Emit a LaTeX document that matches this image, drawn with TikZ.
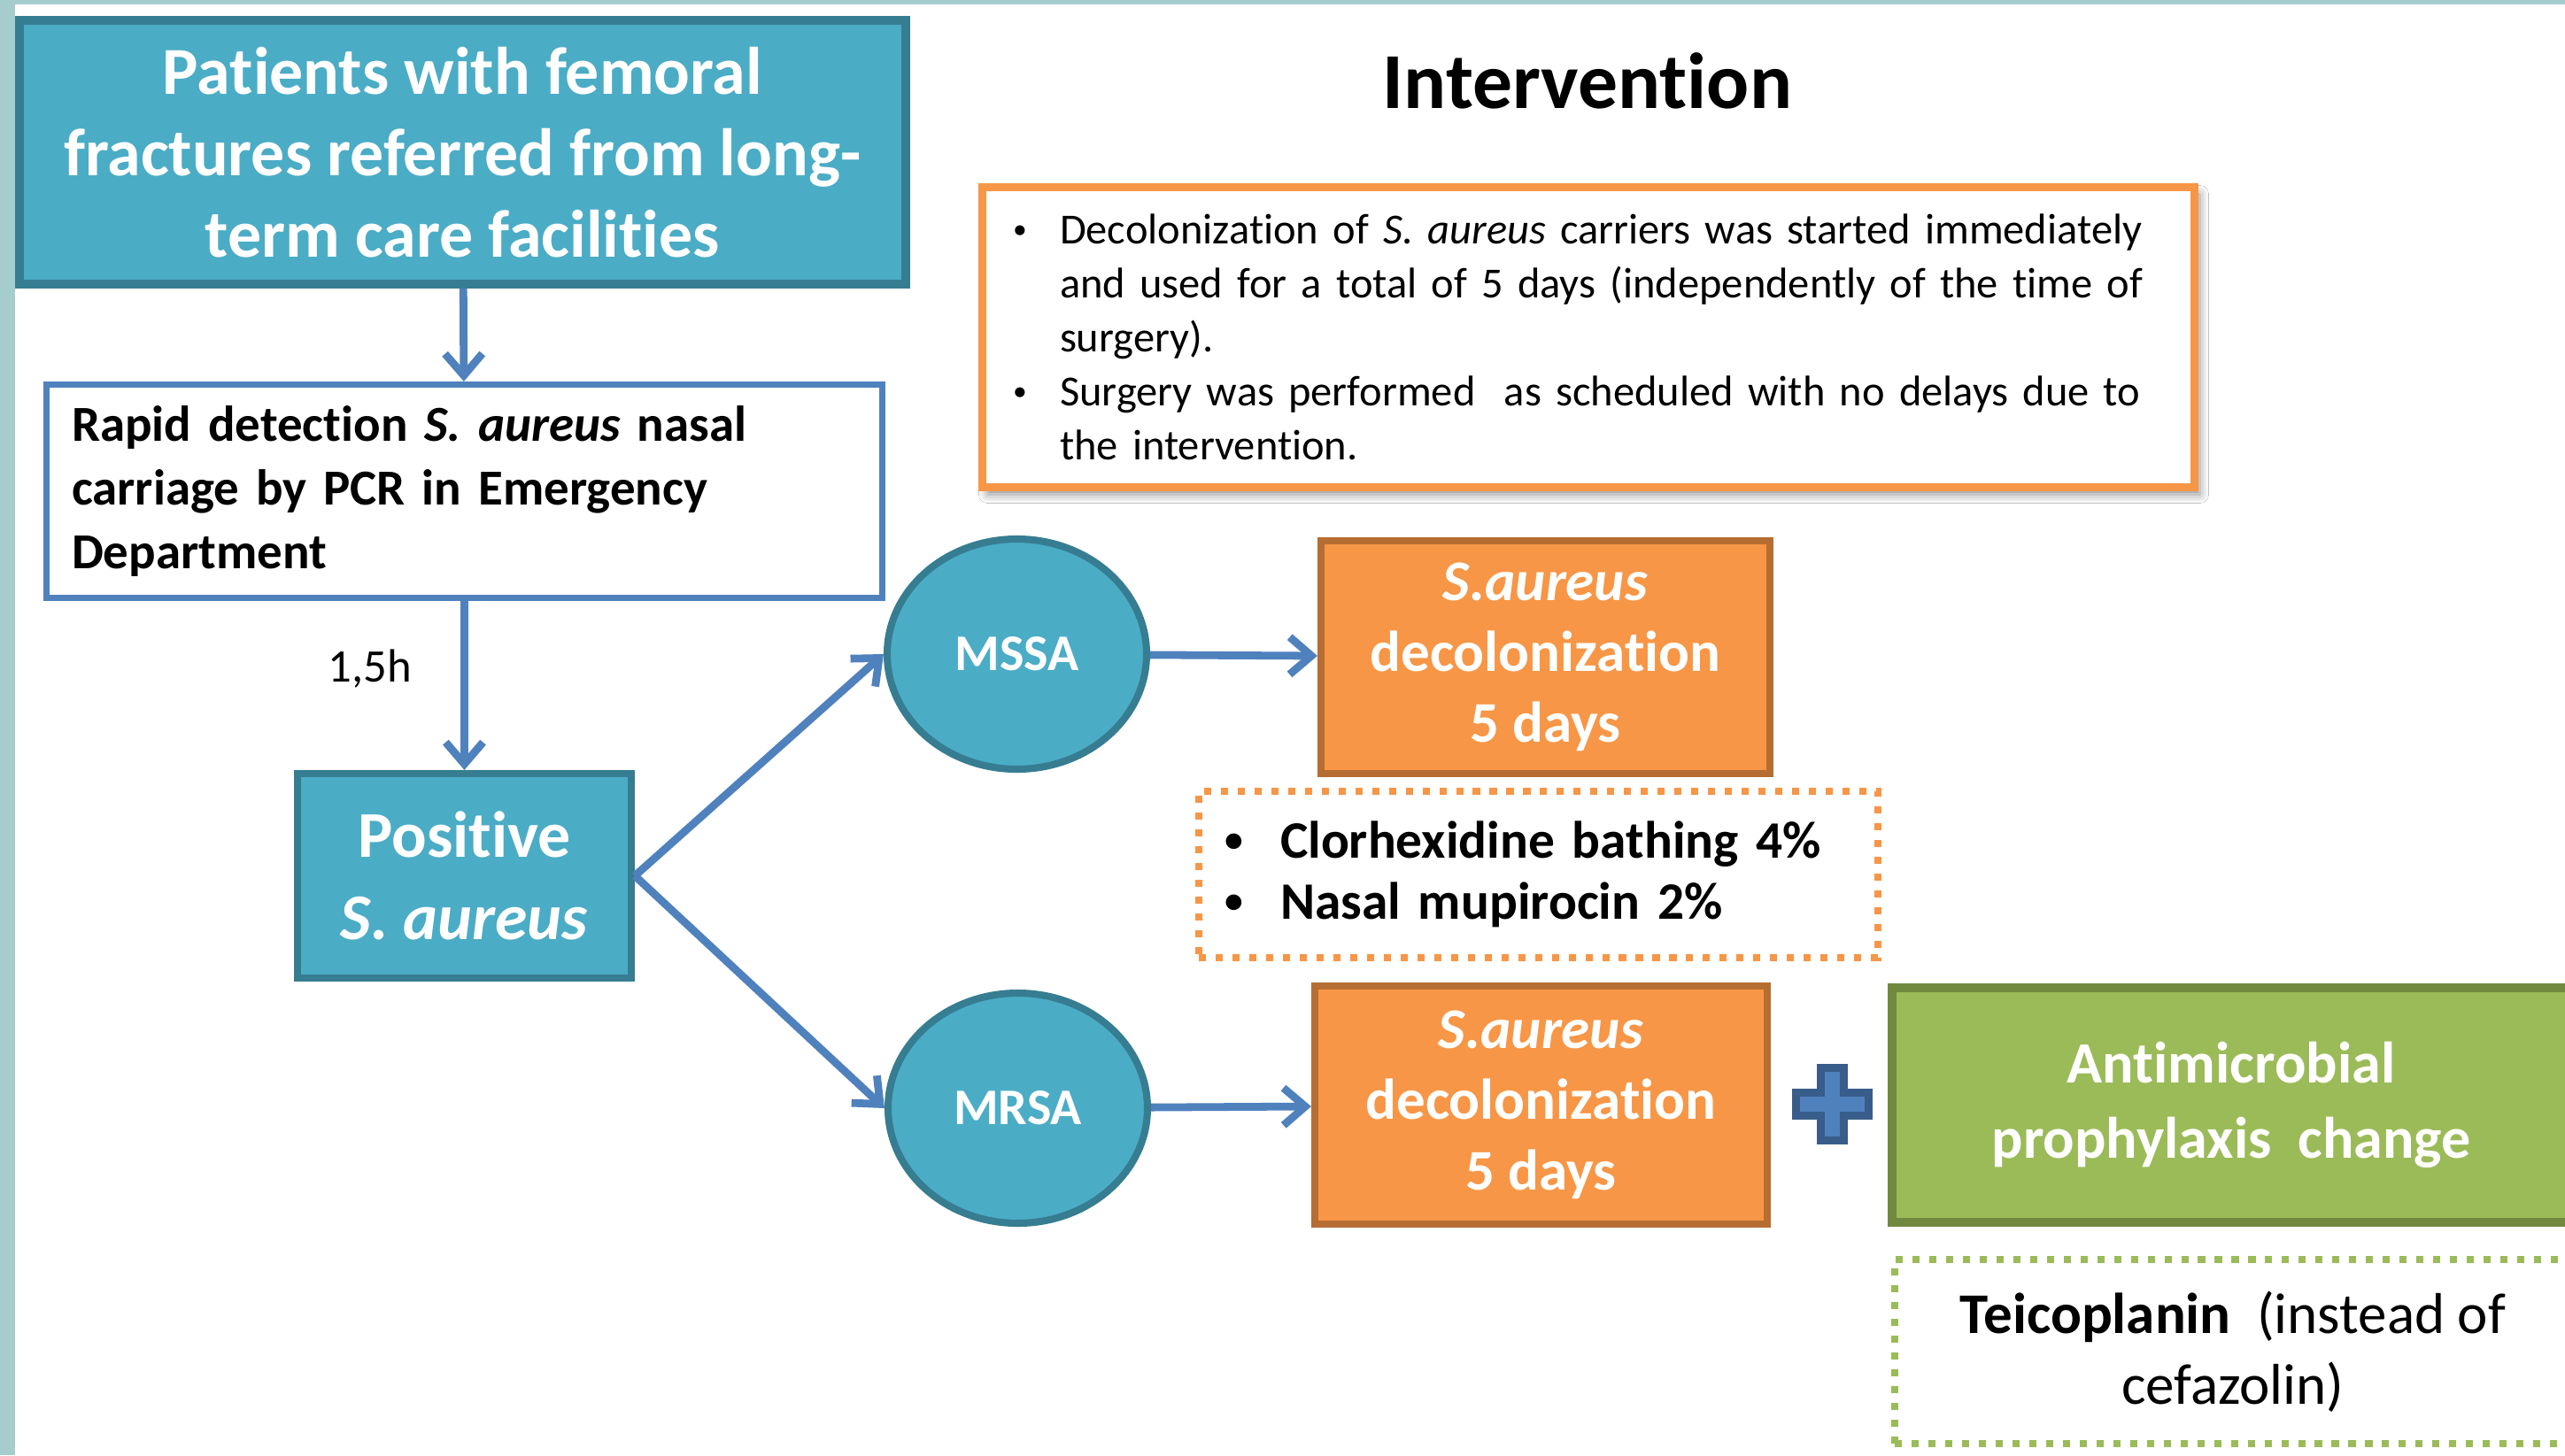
\documentclass[tikz,border=0pt]{standalone}
\usepackage{fontspec}
\setmainfont{Carlito}[Ligatures=CommonOff]
\usetikzlibrary{arrows.meta}
\usetikzlibrary{shapes.geometric}
\usetikzlibrary{shadows.blur}
\newcommand{\fsz}[2]{\fontsize{#1pt}{#2pt}\selectfont}
\newcommand{\bul}[2]{\makebox[#1][l]{\raisebox{0.12em}{\scalebox{#2}{\textbullet}}}}
\definecolor{bandgray}{HTML}{A6CDCE}
\definecolor{tealfill}{HTML}{4BACC6}
\definecolor{tealline}{HTML}{367D91}
\definecolor{bluecol}{HTML}{4F81BD}
\definecolor{bluedark}{HTML}{385D8A}
\definecolor{orangefill}{HTML}{F79646}
\definecolor{orangeline}{HTML}{B66D31}
\definecolor{greenfill}{HTML}{9BBB59}
\definecolor{greenline}{HTML}{71893F}

\begin{document}
\begin{tikzpicture}[
    tealbox/.style={draw=tealline, fill=tealfill, line width=2.85pt, text=white, align=center, inner sep=0pt},
    rapidbox/.style={draw=bluecol, fill=white, line width=2pt, align=left, inner sep=0pt, font=\fsz{16.2}{20.5}\bfseries},
    ovalnode/.style={ellipse, draw=tealline, fill=tealfill, line width=2.3pt, text=white, inner sep=0pt, minimum width=2.93cm, minimum height=2.6cm, font=\fsz{16.5}{20}\bfseries},
    decobox/.style={draw=orangeline, fill=orangefill, line width=2.3pt, text=white, align=center, inner sep=0pt, font=\fsz{18.5}{22.8}\bfseries},
    greenbox/.style={draw=greenline, fill=greenfill, line width=2.85pt, text=white, align=center, inner sep=0pt, font=\fsz{18.8}{24}\bfseries},
    dotorange/.style={draw=orangefill, line width=2.3pt, dash pattern=on 2.3pt off 3.1pt, align=left, inner sep=0pt, font=\fsz{16.9}{19.6}\bfseries},
    dotgreen/.style={draw=greenfill, line width=2.3pt, dash pattern=on 2.3pt off 3.1pt, align=center, inner sep=0pt, font=\fsz{18.5}{22.8}},
    infobox/.style={draw=orangefill, fill=white, line width=2.56pt, align=left, inner sep=0pt, font=\fsz{13.8}{17.4},
        blur shadow={shadow xshift=0.06cm, shadow yshift=-0.08cm, shadow blur radius=0.1cm, shadow opacity=45}},
    plussign/.style={fill=bluecol, draw=bluedark, line width=2.56pt, line join=miter},
    arr/.style={draw=bluecol, line width=2.5pt, -{Straight Barb[length=7pt, width=12pt]}},
    lbl/.style={inner sep=0pt, font=\fsz{15}{18}}
]
    % Page frame
    \useasboundingbox (0,0) rectangle (28.97,-16.44);
    \clip (0,0) rectangle (28.97,-16.44);
    \fill[white] (0,0) rectangle (28.97,-16.44);
    \fill[bandgray] (0,0) rectangle (0.17,-16.44);
    \fill[bandgray] (0,0) rectangle (28.97,-0.05);

    % Left column
    \node[tealbox, minimum width=10.01cm, minimum height=2.98cm, font=\fsz{21.6}{26.2}\bfseries] (patients) at (5.225,-1.72)
        {Patients with femoral\\fractures referred from long-\\term care facilities};
    \node[rapidbox, minimum width=9.44cm, minimum height=2.41cm, text width=8.87cm] (rapid) at (5.245,-5.55)
        {Rapid detection \textit{S. aureus} nasal\\carriage by PCR in Emergency\\Department};
    \node[tealbox, line width=2.3pt, minimum width=3.77cm, minimum height=2.31cm, font=\fsz{21}{26.5}\bfseries] (positive) at (5.245,-9.895)
        {Positive\\\textit{S. aureus}};

    % Carrier type
    \node[ovalnode] (mssa) at (11.485,-7.39) {MSSA};
    \node[ovalnode] (mrsa) at (11.495,-12.52) {MRSA};

    % Decolonization
    \node[decobox, minimum width=5.07cm, minimum height=2.63cm] (deco1) at (17.455,-7.425)
        {\textit{S.aureus}\\decolonization\\5 days};
    \node[decobox, minimum width=5.11cm, minimum height=2.69cm] (deco2) at (17.405,-12.485)
        {\textit{S.aureus}\\decolonization\\5 days};
    \node[dotorange, minimum width=7.67cm, minimum height=1.88cm, text width=7.09cm] (baths) at (17.375,-9.88)
        {\bul{0.63cm}{0.7}Clorhexidine bathing 4\%\\\bul{0.63cm}{0.7}Nasal mupirocin 2\%};

    % Plus sign
    \filldraw[plussign, shift={(20.69,-12.47)}] (-0.13,0.41) -- (0.13,0.41) -- (0.13,0.13) -- (0.41,0.13)
        -- (0.41,-0.13) -- (0.13,-0.13) -- (0.13,-0.41) -- (-0.13,-0.41) -- (-0.13,-0.13)
        -- (-0.41,-0.13) -- (-0.41,0.13) -- (-0.13,0.13) -- cycle;

    % Prophylaxis
    \node[greenbox, minimum width=7.66cm, minimum height=2.65cm] (prophy) at (25.2,-12.485)
        {Antimicrobial\\prophylaxis\ \ change};
    \node[dotgreen, minimum width=7.64cm, minimum height=2.08cm] (teico) at (25.22,-15.27)
        {\textbf{Teicoplanin}\ \ (instead of\\cefazolin)};

    % Title and notes
    \node[anchor=base, font=\fsz{25.5}{30}\bfseries] (title) at (17.93,-1.22) {Intervention};
    \node[infobox, minimum width=13.69cm, minimum height=3.39cm, text width=13.0cm] (info) at (17.94,-3.81)
        {\bul{0.53cm}{0.65}Decolonization of \textit{S. aureus} carriers was started immediately\\
         \hspace*{0.53cm}and used for a total of 5 days (independently of the time of\\
         \hspace*{0.53cm}surgery).\\
         \bul{0.53cm}{0.65}Surgery was performed\ \ as scheduled with no delays due to\\
         \hspace*{0.53cm}the intervention.};

    % Arrows
    \draw[arr] (patients) -- (rapid);
    \draw[arr] (rapid) -- node[pos=0.4, left=0.55cm, lbl] (dt) {1,5h} (positive);
    \draw[arr] (positive.east) -- (mssa.west);
    \draw[arr] (positive.east) -- (mrsa.west);
    \draw[arr] (mssa) -- (deco1);
    \draw[arr] (mrsa) -- (deco2);
\end{tikzpicture}
\end{document}
